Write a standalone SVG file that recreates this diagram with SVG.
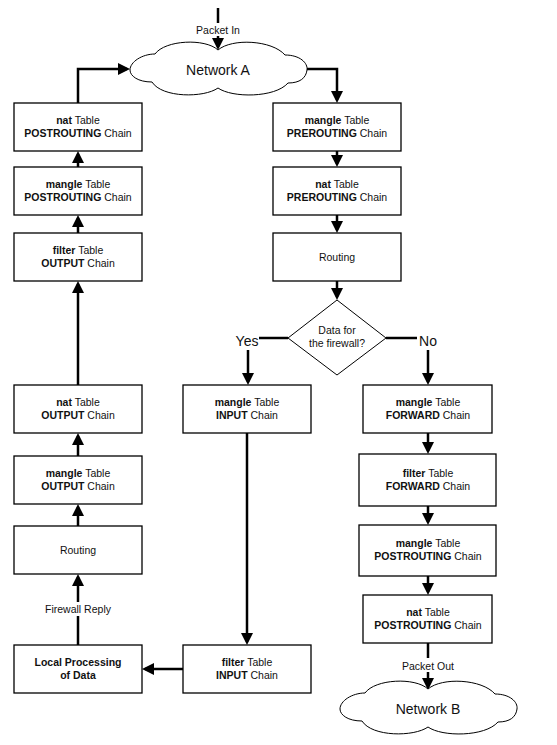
<svg xmlns="http://www.w3.org/2000/svg" width="557" height="745" viewBox="0 0 557 745">
<style>
.box{fill:#fff;stroke:#000;stroke-width:1.3}
.cloud{fill:#fff;stroke:#000;stroke-width:1}
.t{font-family:"Liberation Sans",Arial,sans-serif;font-size:10.5px;fill:#111;text-anchor:middle}
.b{font-weight:bold}
.big{font-family:"Liberation Sans",Arial,sans-serif;font-size:14px;fill:#111;text-anchor:middle}
.ln{fill:none;stroke:#000;stroke-width:2.5}
.ar{fill:none;stroke:#000;stroke-width:2.5;marker-end:url(#ah)}
</style>
<defs>
<marker id="ah" viewBox="0 0 12 12" refX="9" refY="6" markerWidth="12" markerHeight="12" markerUnits="userSpaceOnUse" orient="auto">
<path d="M0,0 L12,6 L0,12 Z" fill="#000"/>
</marker>
<path id="cloudShape" d="M-88,0 C-88,-8 -76,-16 -63,-16 C-53,-30 -13,-32 0,-20 C14,-32 54,-30 67,-15 C82,-15 90,-7 89,0 C88,8 82,13 70,13 C57,28 14,28 0,18 C-14,28 -56,28 -66,12 C-80,12 -88,6 -88,0 Z"/>
</defs>
<rect width="557" height="745" fill="#fff"/>

<g id="connectors">
<line class="ln" x1="218" y1="8" x2="218" y2="23"/>
<line class="ar" x1="218" y1="36" x2="218" y2="47"/>
<polyline class="ar" points="78,103 78,69 127,69"/>
<polyline class="ar" points="307,69 337,69 337,100"/>
<line class="ar" x1="337" y1="151" x2="337" y2="164"/>
<line class="ar" x1="337" y1="215" x2="337" y2="230"/>
<line class="ar" x1="337" y1="281" x2="337" y2="297"/>
<line class="ln" x1="288" y1="338" x2="259" y2="338"/>
<line class="ar" x1="248" y1="350" x2="248" y2="382"/>
<line class="ln" x1="386" y1="338" x2="417" y2="338"/>
<line class="ar" x1="428" y1="350" x2="428" y2="382"/>
<line class="ar" x1="247" y1="433" x2="247" y2="642"/>
<line class="ar" x1="183" y1="669" x2="145" y2="669"/>
<line class="ln" x1="78" y1="645" x2="78" y2="616"/>
<line class="ar" x1="78" y1="602" x2="78" y2="577"/>
<line class="ar" x1="78" y1="526" x2="78" y2="507"/>
<line class="ar" x1="78" y1="456" x2="78" y2="436"/>
<line class="ar" x1="78" y1="385" x2="78" y2="284"/>
<line class="ar" x1="78" y1="233" x2="78" y2="218"/>
<line class="ar" x1="78" y1="167" x2="78" y2="154"/>
<line class="ar" x1="428" y1="433" x2="428" y2="451"/>
<line class="ar" x1="428" y1="506" x2="428" y2="522"/>
<line class="ar" x1="428" y1="576" x2="428" y2="592"/>
<line class="ln" x1="428" y1="643" x2="428" y2="658"/>
<line class="ar" x1="428" y1="672" x2="428" y2="687"/>
<text class="t" x="218" y="34">Packet In</text>
<text class="big" x="247" y="346">Yes</text>
<text class="big" x="428" y="346">No</text>
<text class="t" x="78" y="613">Firewall Reply</text>
<text class="t" x="428" y="670">Packet Out</text>
</g>

<g id="networkA">
<use href="#cloudShape" class="cloud" transform="translate(218,70)"/>
<text class="big" x="218" y="75">Network A</text>
</g>
<g id="networkB">
<use href="#cloudShape" class="cloud" transform="translate(428,709)"/>
<text class="big" x="428" y="714">Network B</text>
</g>

<g id="natPostroutingL">
<rect class="box" x="14" y="103" width="128" height="48"/>
<text class="t" x="78" y="124"><tspan class="b">nat</tspan> Table</text>
<text class="t" x="78" y="137"><tspan class="b">POSTROUTING</tspan> Chain</text>
</g>
<g id="manglePostroutingL">
<rect class="box" x="14" y="167" width="128" height="48"/>
<text class="t" x="78" y="188"><tspan class="b">mangle</tspan> Table</text>
<text class="t" x="78" y="201"><tspan class="b">POSTROUTING</tspan> Chain</text>
</g>
<g id="filterOutput">
<rect class="box" x="14" y="233" width="128" height="48"/>
<text class="t" x="78" y="254"><tspan class="b">filter</tspan> Table</text>
<text class="t" x="78" y="267"><tspan class="b">OUTPUT</tspan> Chain</text>
</g>
<g id="natOutput">
<rect class="box" x="14" y="385" width="128" height="48"/>
<text class="t" x="78" y="406"><tspan class="b">nat</tspan> Table</text>
<text class="t" x="78" y="419"><tspan class="b">OUTPUT</tspan> Chain</text>
</g>
<g id="mangleOutput">
<rect class="box" x="14" y="456" width="128" height="48"/>
<text class="t" x="78" y="477"><tspan class="b">mangle</tspan> Table</text>
<text class="t" x="78" y="490"><tspan class="b">OUTPUT</tspan> Chain</text>
</g>
<g id="routingL">
<rect class="box" x="14" y="526" width="128" height="48"/>
<text class="t" x="78" y="554">Routing</text>
</g>
<g id="localProcessing">
<rect class="box" x="14" y="645" width="128" height="48"/>
<text class="t b" x="78" y="666">Local Processing</text>
<text class="t b" x="78" y="679">of Data</text>
</g>

<g id="manglePrerouting">
<rect class="box" x="273" y="103" width="128" height="48"/>
<text class="t" x="337" y="124"><tspan class="b">mangle</tspan> Table</text>
<text class="t" x="337" y="137"><tspan class="b">PREROUTING</tspan> Chain</text>
</g>
<g id="natPrerouting">
<rect class="box" x="273" y="167" width="128" height="48"/>
<text class="t" x="337" y="188"><tspan class="b">nat</tspan> Table</text>
<text class="t" x="337" y="201"><tspan class="b">PREROUTING</tspan> Chain</text>
</g>
<g id="routingR">
<rect class="box" x="273" y="233" width="128" height="48"/>
<text class="t" x="337" y="261">Routing</text>
</g>
<g id="decision">
<polygon points="337,300 386,338 337,375 288,338" fill="#fff" stroke="#000" stroke-width="1"/>
<text class="t" x="337" y="334">Data for</text>
<text class="t" x="337" y="347">the firewall?</text>
</g>

<g id="mangleInput">
<rect class="box" x="183" y="385" width="128" height="48"/>
<text class="t" x="247" y="406"><tspan class="b">mangle</tspan> Table</text>
<text class="t" x="247" y="419"><tspan class="b">INPUT</tspan> Chain</text>
</g>
<g id="filterInput">
<rect class="box" x="183" y="645" width="128" height="48"/>
<text class="t" x="247" y="666"><tspan class="b">filter</tspan> Table</text>
<text class="t" x="247" y="679"><tspan class="b">INPUT</tspan> Chain</text>
</g>

<g id="mangleForward">
<rect class="box" x="363" y="385" width="129" height="48"/>
<text class="t" x="428" y="406"><tspan class="b">mangle</tspan> Table</text>
<text class="t" x="428" y="419"><tspan class="b">FORWARD</tspan> Chain</text>
</g>
<g id="filterForward">
<rect class="box" x="359" y="454" width="137" height="52"/>
<text class="t" x="428" y="477"><tspan class="b">filter</tspan> Table</text>
<text class="t" x="428" y="490"><tspan class="b">FORWARD</tspan> Chain</text>
</g>
<g id="manglePostroutingR">
<rect class="box" x="359" y="525" width="137" height="51"/>
<text class="t" x="428" y="547"><tspan class="b">mangle</tspan> Table</text>
<text class="t" x="428" y="560"><tspan class="b">POSTROUTING</tspan> Chain</text>
</g>
<g id="natPostroutingR">
<rect class="box" x="363" y="595" width="129" height="48"/>
<text class="t" x="428" y="616"><tspan class="b">nat</tspan> Table</text>
<text class="t" x="428" y="629"><tspan class="b">POSTROUTING</tspan> Chain</text>
</g>
</svg>
